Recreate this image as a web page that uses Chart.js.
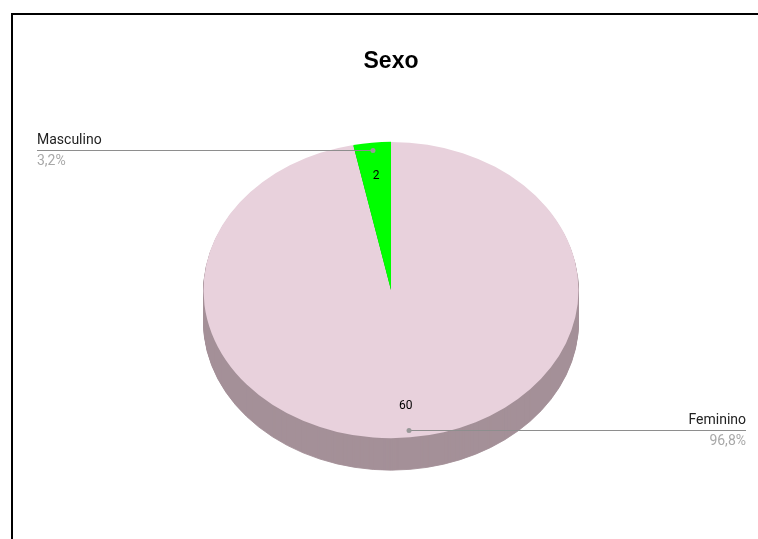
<!DOCTYPE html>
<html>
<head>
<meta charset="utf-8">
<script src="https://cdn.jsdelivr.net/npm/chart.js@4/dist/chart.umd.min.js"></script>
<style>
  html, body { margin: 0; padding: 0; background: #fff; }
  canvas { display: block; }
</style>
</head>
<body>
<canvas id="c" width="758" height="539"></canvas>
<script>
const chartTitle = 'Sexo';
const categories = ['Feminino', 'Masculino'];
const values = [60, 2];
const topColors = ['#e8d1dc', '#00ff00'];
const sideColors = ['#a49098', '#00a000'];

const TILT = 0.79;      // vertical squash of the 3D pie
const DEPTH = 32;       // thickness of the pie side

function tiltTransform(ctx, cx, cy) {
  ctx.translate(cx, cy);
  ctx.scale(1, TILT);
  ctx.translate(-cx, -cy);
}

const pie3d = {
  id: 'pie3d',
  beforeDraw(chart) {
    const ctx = chart.ctx;
    ctx.save();
    ctx.fillStyle = '#ffffff';
    ctx.fillRect(0, 0, chart.width, chart.height);
    ctx.fillStyle = '#000000';
    ctx.fillRect(11, 13, 2, chart.height);
    ctx.fillRect(11, 13, chart.width, 2);
    const a0 = chart.getDatasetMeta(0).data[0];
    ctx.font = 'bold 23px "Liberation Sans", Arial, sans-serif';
    ctx.textAlign = 'center';
    ctx.textBaseline = 'alphabetic';
    ctx.fillStyle = '#000';
    ctx.fillText(chartTitle, a0 ? a0.x : chart.width / 2, 68);
    ctx.restore();
  },
  beforeDatasetsDraw(chart) {
    const ctx = chart.ctx;
    const arcs = chart.getDatasetMeta(0).data;
    const cx = arcs[0].x, cy = arcs[0].y;
    for (let d = DEPTH; d >= 1; d--) {
      ctx.save();
      ctx.translate(0, d);
      tiltTransform(ctx, cx, cy);
      arcs.forEach((arc, i) => {
        const fake = Object.create(arc);
        fake.options = Object.assign({}, arc.options, {
          backgroundColor: sideColors[i], borderColor: sideColors[i],
          borderWidth: d === 1 ? 0 : 1
        });
        fake.draw(ctx);
      });
      ctx.restore();
    }
    ctx.save();
    tiltTransform(ctx, cx, cy);
  },
  afterDatasetsDraw(chart) {
    const ctx = chart.ctx;
    ctx.restore();
    const arcs = chart.getDatasetMeta(0).data;
    const total = values.reduce((s, v) => s + v, 0);
    arcs.forEach((arc, i) => {
      const mid = (arc.startAngle + arc.endAngle) / 2;
      const r = arc.outerRadius;
      const px = (f) => arc.x + Math.cos(mid) * r * f;
      const py = (f) => arc.y + Math.sin(mid) * r * f * TILT;
      ctx.save();
      ctx.font = '12px Roboto, Arial, sans-serif';
      ctx.fillStyle = '#000';
      ctx.textAlign = 'center';
      ctx.textBaseline = 'middle';
      ctx.fillText(String(values[i]), px(0.78), py(0.78) + 1);
      const dx = px(0.95), dy = Math.round(py(0.95)) + 0.5;
      const left = Math.cos(mid) < 0;
      const endX = left ? 37 : 746;
      ctx.strokeStyle = '#8e8e8e';
      ctx.lineWidth = 1;
      ctx.beginPath();
      ctx.moveTo(dx, dy);
      ctx.lineTo(endX, dy);
      ctx.stroke();
      ctx.fillStyle = '#999';
      ctx.beginPath();
      ctx.arc(dx, dy, 2.5, 0, Math.PI * 2);
      ctx.fill();
      ctx.textAlign = left ? 'left' : 'right';
      ctx.textBaseline = 'alphabetic';
      ctx.font = '14px Roboto, Arial, sans-serif';
      ctx.fillStyle = '#222';
      ctx.fillText(categories[i], endX, dy - 7);
      const pct = (values[i] / total * 100).toFixed(1).replace('.', ',') + '%';
      ctx.fillStyle = '#a8a8a8';
      ctx.fillText(pct, endX, dy + 14);
      ctx.restore();
    });
  }
};

new Chart(document.getElementById('c'), {
  type: 'pie',
  data: {
    labels: categories,
    datasets: [{
      data: values,
      backgroundColor: topColors,
      borderWidth: 0,
      hoverOffset: 0
    }]
  },
  options: {
    responsive: false,
    animation: false,
    events: [],
    layout: { padding: { left: 203.5, right: 179.5, top: 102.5, bottom: 61.5 } },
    plugins: {
      legend: { display: false },
      title: { display: false },
      tooltip: { enabled: false }
    }
  },
  plugins: [pie3d]
});
</script>
</body>
</html>
